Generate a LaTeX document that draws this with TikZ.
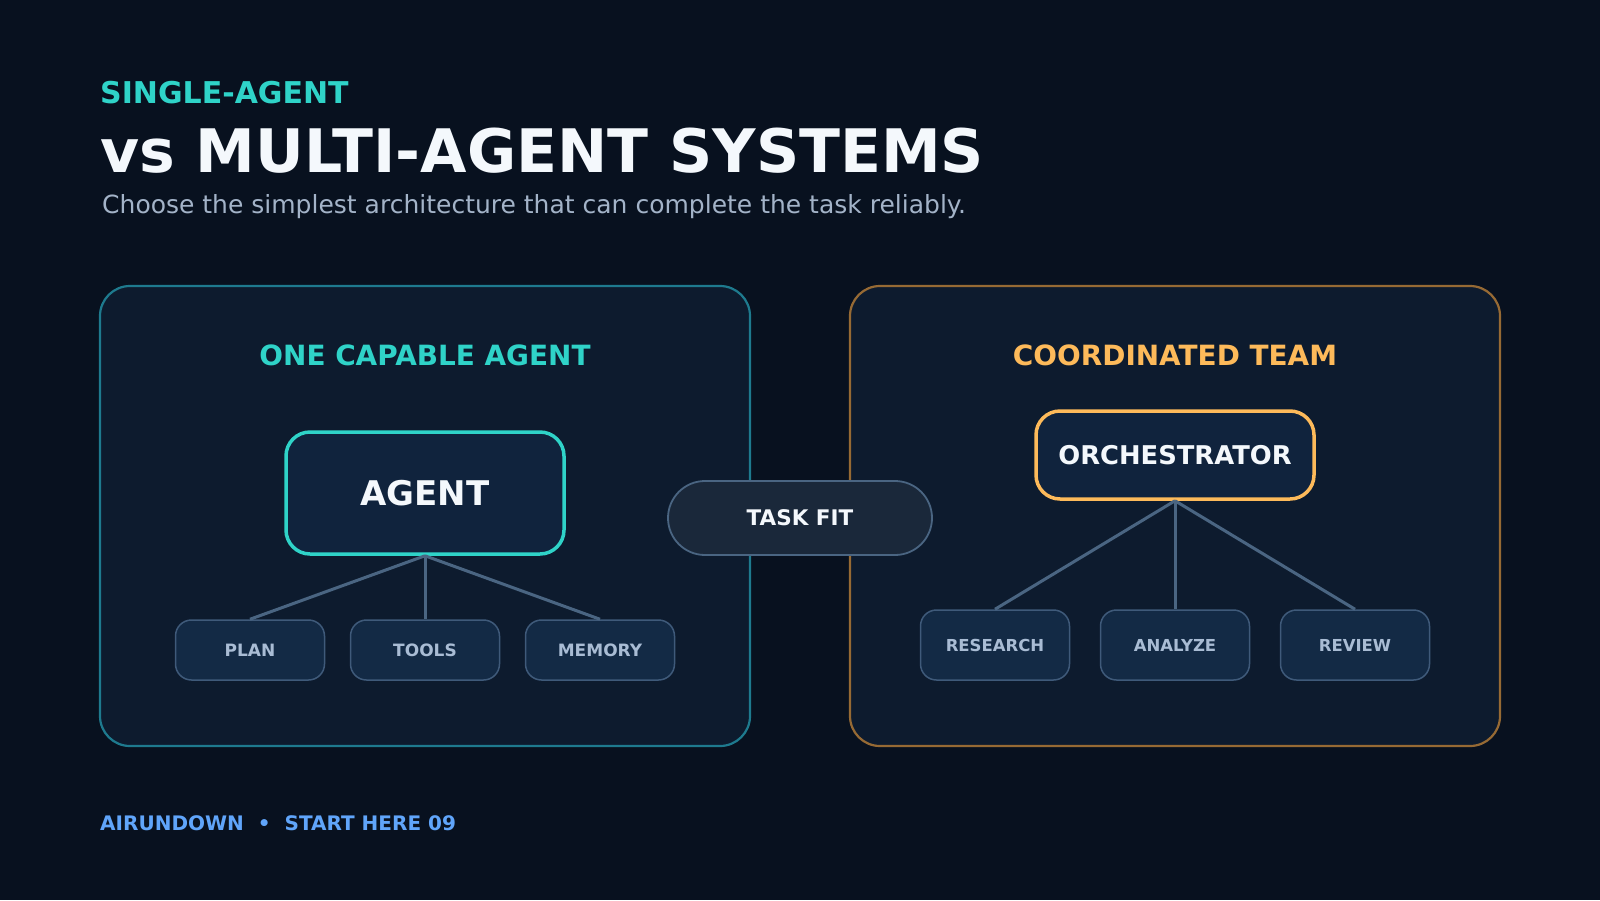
\documentclass[tikz,border=0pt]{standalone}
\usepackage{fontspec}
\setmainfont{DejaVu Sans}
\usetikzlibrary{positioning}

\definecolor{bgdark}{HTML}{08111F}
\definecolor{panelfill}{HTML}{0D1B2E}
\definecolor{tealacc}{HTML}{2FD3C8}
\definecolor{tealedge}{HTML}{1E7A8E}
\definecolor{amberacc}{HTML}{FDBA5A}
\definecolor{amberedge}{HTML}{966A34}
\definecolor{boxfill}{HTML}{10233D}
\definecolor{leaffill}{HTML}{132A45}
\definecolor{leafedge}{HTML}{3F5A7A}
\definecolor{leaftext}{HTML}{A9BCD4}
\definecolor{linkcol}{HTML}{4A6582}
\definecolor{pillfill}{HTML}{1A283A}
\definecolor{subtext}{HTML}{A3B3C8}
\definecolor{whitetext}{HTML}{F4F8FC}
\definecolor{footblue}{HTML}{60A5FA}

\tikzset{
  panel/.style={
    draw,
    line width=2.2pt,
    fill = panelfill,
    rounded corners=30pt,
    minimum width=650pt,
    minimum height=460pt,
    inner sep=0pt
  },
  hub/.style={
    draw,
    line width=3.5pt,
    fill = boxfill,
    text = whitetext,
    inner sep=0pt,
    rounded corners=24pt
  },
  leaf/.style={
    draw = leafedge,
    line width=1.5pt,
    fill = leaffill,
    text = leaftext,
    font = \fontsize{17}{20}\selectfont\bfseries,
    minimum width=149pt,
    inner sep=0pt,
    rounded corners=16pt
  },
  link/.style={
    draw = linkcol,
    line width=3pt
  },
  heading/.style={
    anchor = base west,
    inner sep=0pt
  },
}

\begin{document}
\begin{tikzpicture}[x=1pt,y=-1pt]
    % background fixes the page size
    \fill[bgdark] (0,0) rectangle (1600,900);

    % header
    \node[heading, text=tealacc, font=\fontsize{30}{34}\selectfont\bfseries] (kicker) at (100,103) {SINGLE-AGENT};
    \node[heading, text=whitetext, font=\fontsize{60}{70}\selectfont\bfseries] (title) at (100,172) {vs MULTI-AGENT SYSTEMS};
    \node[heading, text=subtext, font=\fontsize{25}{30}\selectfont] (subtitle) at (102,213) {Choose the simplest architecture that can complete the task reliably.};

    % panels
    \node[panel, draw=tealedge] (single) at (425,516) {};
    \node[panel, draw=amberedge] (multi) at (1175,516) {};

    \node[text=tealacc, font=\fontsize{27.9}{32}\selectfont\bfseries] (singlehead) at (425,355) {ONE CAPABLE AGENT};
    \node[text=amberacc, font=\fontsize{27.9}{32}\selectfont\bfseries] (multihead) at (1175,355) {COORDINATED TEAM};

    % single agent
    \node[hub, draw=tealacc, minimum width=278pt, minimum height=122pt, font=\fontsize{34}{40}\selectfont\bfseries] (agent) at (425,493) {AGENT};
    \node[leaf, minimum height=60pt] (plan) at (250,650) {PLAN};
    \node[leaf, minimum height=60pt] (tools) at (425,650) {TOOLS};
    \node[leaf, minimum height=60pt] (memory) at (600,650) {MEMORY};
    \foreach \n in {plan,tools,memory}
        \draw[link] (agent.south) -- (\n.north);

    % multi agent
    \node[hub, draw=amberacc, minimum width=278pt, minimum height=88pt, font=\fontsize{25.8}{30}\selectfont\bfseries] (orch) at (1175,455) {ORCHESTRATOR};
    \node[leaf, minimum height=70pt, font=\fontsize{16.5}{20}\selectfont\bfseries] (research) at (995,645) {RESEARCH};
    \node[leaf, minimum height=70pt, font=\fontsize{16.5}{20}\selectfont\bfseries] (analyze) at (1175,645) {ANALYZE};
    \node[leaf, minimum height=70pt, font=\fontsize{16.5}{20}\selectfont\bfseries] (review) at (1355,645) {REVIEW};
    \foreach \n in {research,analyze,review}
        \draw[link] (orch.south) -- (\n.north);

    % middle pill
    \node[draw=linkcol, line width=1.8pt, fill=pillfill, text=whitetext, font=\fontsize{21.5}{26}\selectfont\bfseries,
          minimum width=264pt, minimum height=74pt, rounded corners=37pt, inner sep=0pt] (taskfit) at (800,518) {TASK FIT};

    % footer
    \node[heading, text=footblue, font=\fontsize{20}{24}\selectfont\bfseries] (footer) at (100,830) {AIRUNDOWN\hspace{14pt}•\hspace{14pt}START HERE 09};
\end{tikzpicture}
\end{document}
